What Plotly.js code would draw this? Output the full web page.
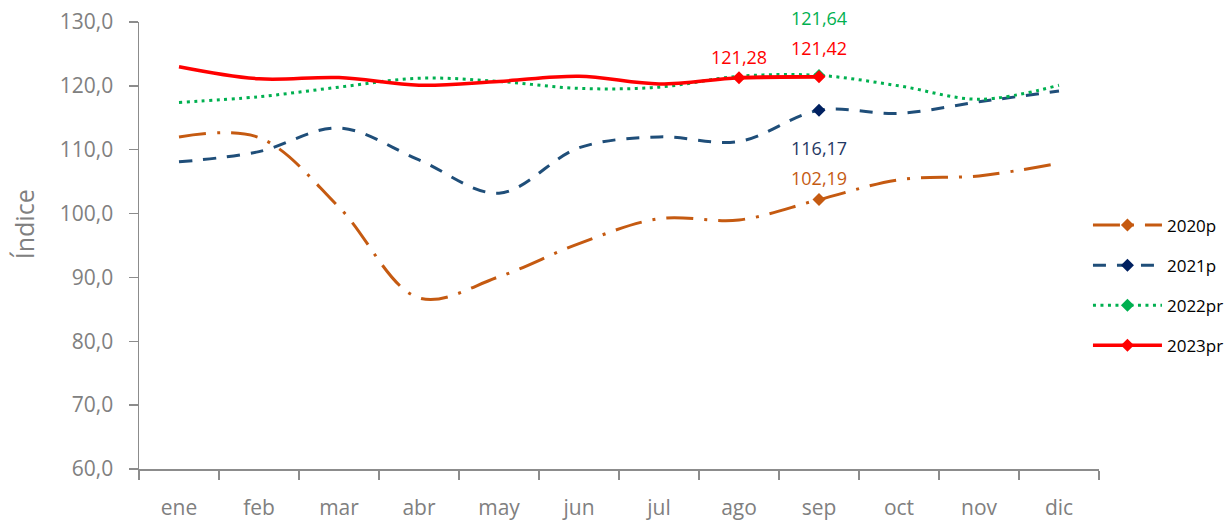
<!DOCTYPE html>
<html>
<head>
<meta charset="utf-8">
<script src="https://cdn.plot.ly/plotly-3.0.1.min.js"></script>
<style>html,body{margin:0;padding:0;background:#fff;}#chart{width:1232px;height:523px;}</style>
</head>
<body>
<div id="chart"></div>
<script>
const months = ['ene','feb','mar','abr','may','jun','jul','ago','sep','oct','nov','dic'];
const seriesNames = ['2020p','2021p','2022pr','2023pr'];
const v2020 = [112.0, 111.9, 101.0, 86.8, 90.1, 95.3, 99.2, 99.0, 102.19, 105.3, 105.9, 107.9];
const v2021 = [108.1, 109.7, 113.4, 108.4, 103.2, 110.3, 112.0, 111.3, 116.17, 115.7, 117.5, 119.2];
const v2022 = [117.4, 118.3, 119.8, 121.2, 120.7, 119.6, 119.8, 121.5, 121.64, 120.0, 117.9, 120.1];
const v2023 = [123.0, 121.1, 121.3, 120.1, 120.7, 121.5, 120.3, 121.28, 121.42];
const highlightIdx = [[8],[8],[8],[7,8]];
const labelShift = [[22],[-38],[57],[21,29]];
const yTitle = 'Índice';

const colors = ['#C55A11','#1F4E79','#00B050','#FF0000'];
const markerColors = ['#C55A11','#002060','#00B050','#FF0000'];
const labelColors = ['#C55A11','#1F3864','#00B050','#FF0000'];
const dashes = ['27px,11px,3px,11px','13px,11px','3px,4.5px','solid'];
const widths = [3,3,3,3.5];
const allValues = [v2020, v2021, v2022, v2023];

const fmt = v => v.toFixed(2).replace('.', ',');

const traces = [];
const annotations = [];
allValues.forEach((vals, i) => {
  const xs = months.slice(0, vals.length);
  traces.push({
    x: xs, y: vals, type: 'scatter', mode: 'lines', name: seriesNames[i],
    legendgroup: seriesNames[i], showlegend: false, hoverinfo: 'skip',
    line: {color: colors[i], width: widths[i], dash: dashes[i], shape: 'spline', smoothing: 1}
  });
  const hx = highlightIdx[i].map(k => months[k]);
  const hy = highlightIdx[i].map(k => vals[k]);
  traces.push({
    x: hx, y: hy, type: 'scatter', mode: 'lines+markers', name: seriesNames[i],
    legendgroup: seriesNames[i], showlegend: true,
    line: {color: colors[i], width: widths[i], dash: dashes[i], shape: 'spline'},
    marker: {symbol: 'diamond', size: 10, color: markerColors[i]}
  });
  highlightIdx[i].forEach((k, j) => {
    annotations.push({
      x: months[k], y: vals[k], xref: 'x', yref: 'y', text: fmt(vals[k]),
      showarrow: false, yshift: labelShift[i][j],
      font: {family: 'Open Sans, sans-serif', size: 18, color: labelColors[i]}
    });
  });
});

annotations.push({
  xref: 'paper', yref: 'paper', x: -0.119, y: 0.547, xanchor: 'center', yanchor: 'middle',
  text: yTitle, textangle: -90, showarrow: false,
  font: {family: 'Open Sans, sans-serif', size: 25, color: '#808080'}
});

const layout = {
  width: 1232, height: 523,
  margin: {l: 139, r: 133, t: 22, b: 54, autoexpand: false},
  paper_bgcolor: '#fff', plot_bgcolor: '#fff',
  separators: ',.',
  font: {family: 'Open Sans, sans-serif', color: '#808080'},
  xaxis: {
    type: 'category', categoryorder: 'array', categoryarray: months,
    range: [-0.5, 11.5], showgrid: false, zeroline: false,
    showline: true, linecolor: '#8c8c8c', linewidth: 1.5,
    ticks: 'outside', tickson: 'boundaries', ticklen: 9, tickcolor: '#8c8c8c', tickwidth: 1.5,
    ticklabelstandoff: 19,
    tickfont: {size: 21, color: '#808080'}, fixedrange: true
  },
  yaxis: {
    range: [60, 130], dtick: 10, tick0: 60, tickformat: '.1f',
    showgrid: false, zeroline: false,
    showline: true, linecolor: '#8c8c8c', linewidth: 1.5,
    ticks: 'outside', ticklen: 9, tickcolor: '#8c8c8c', tickwidth: 1.5,
    ticklabelstandoff: 11,
    tickfont: {size: 21, color: '#808080'},
    fixedrange: true
  },
  showlegend: true,
  legend: {
    x: 0.9885, y: 0.585, xanchor: 'left', yanchor: 'top',
    font: {size: 17, color: '#000'}, itemwidth: 69, tracegroupgap: 15,
    bgcolor: 'rgba(0,0,0,0)', traceorder: 'grouped'
  },
  annotations: annotations
};

Plotly.newPlot('chart', traces, layout, {displayModeBar: false, staticPlot: true});
</script>
</body>
</html>
